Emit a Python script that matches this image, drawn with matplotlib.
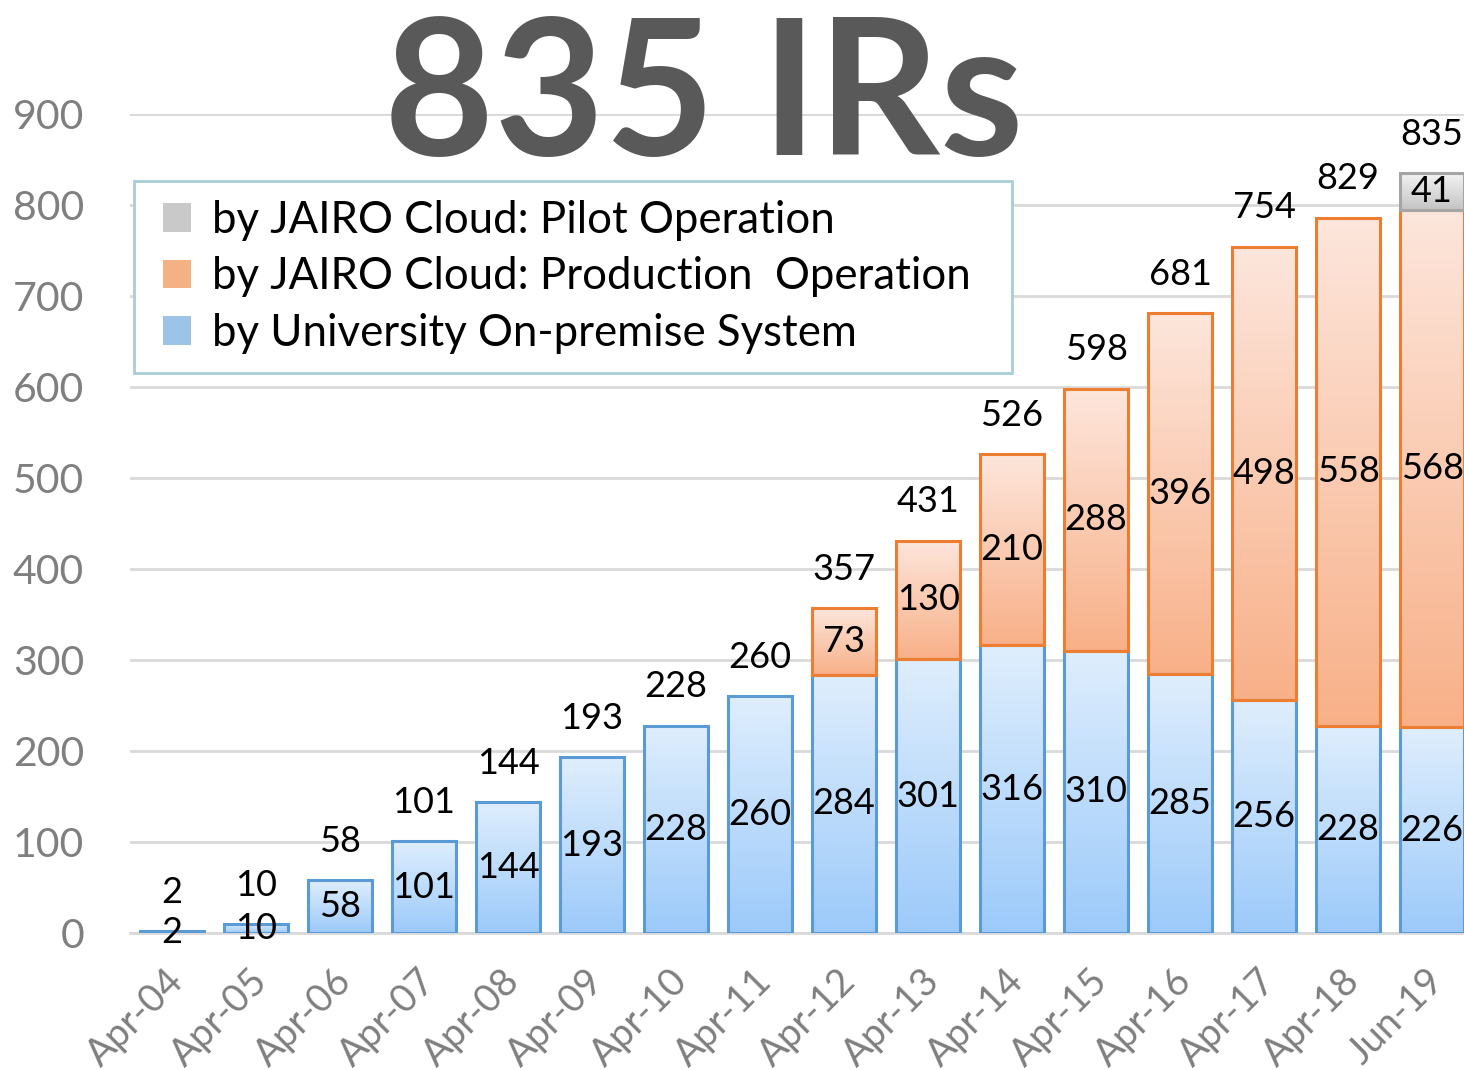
import matplotlib
matplotlib.use("Agg")
import matplotlib.pyplot as plt
import matplotlib.transforms as mtransforms
import numpy as np
from matplotlib.colors import LinearSegmentedColormap
from matplotlib.patches import Patch, Rectangle

categories = ["Apr-04", "Apr-05", "Apr-06", "Apr-07", "Apr-08", "Apr-09", "Apr-10", "Apr-11",
              "Apr-12", "Apr-13", "Apr-14", "Apr-15", "Apr-16", "Apr-17", "Apr-18", "Jun-19"]
university = [2, 10, 58, 101, 144, 193, 228, 260, 284, 301, 316, 310, 285, 256, 228, 226]
production = [0, 0, 0, 0, 0, 0, 0, 0, 73, 130, 210, 288, 396, 498, 558, 568]
pilot = [0, 0, 0, 0, 0, 0, 0, 0, 0, 0, 0, 0, 0, 0, 0, 41]
totals = [2, 10, 58, 101, 144, 193, 228, 260, 357, 431, 526, 598, 681, 754, 829, 835]
yticks = [0, 100, 200, 300, 400, 500, 600, 700, 800, 900]
legend_labels = ["by JAIRO Cloud: Pilot Operation",
                 "by JAIRO Cloud: Production  Operation",
                 "by University On-premise System"]
title = "835 IRs"

FONT = "Lato"
plt.rcParams['font.family'] = [FONT, 'DejaVu Sans']

W, H = 1464, 1070
fig = plt.figure(figsize=(W / 100, H / 100), dpi=100)
ax = fig.add_axes([130 / W, (H - 933) / H, (W - 130) / W, (933 - 114) / H])

x = np.arange(len(categories))
bw = 0.76

series = [
    (university, "#5b9bd5", "#dfeefd", "#9ccafa"),
    (production, "#ed7d31", "#fde6dc", "#f8b088"),
    (pilot, "#a5a5a5", "#f4f4f4", "#c4c4c4"),
]

bottom = np.zeros(len(categories))
grad = np.linspace(0, 1, 256).reshape(-1, 1)
for vals, edge, top_c, bot_c in series:
    vals = np.array(vals, dtype=float)
    cmap = LinearSegmentedColormap.from_list("g", [bot_c, top_c])
    bars = ax.bar(x, vals, bw, bottom=bottom, facecolor="none", edgecolor=edge,
                  linewidth=2.2, zorder=4)
    for i, (rect, v) in enumerate(zip(bars, vals)):
        if v <= 0:
            rect.set_visible(False)
            continue
        x0, y0 = rect.get_x(), rect.get_y()
        im = ax.imshow(grad, extent=[x0, x0 + rect.get_width(), y0, y0 + rect.get_height()],
                       origin="lower", aspect="auto", cmap=cmap, zorder=3, interpolation="bicubic")
        im.set_clip_path(rect)
        ax.text(x[i], y0 + v / 2, f"{int(v)}", ha="center", va="center", fontsize=26,
                color="black", zorder=6, clip_on=False)
    bottom = bottom + vals

for i, t in enumerate(totals):
    ax.annotate(f"{t}", (x[i], bottom[i]), xytext=(0, 28), textcoords="offset points",
                ha="center", va="center", fontsize=26, color="black", annotation_clip=False,
                zorder=6)

ax.set_xlim(-0.5, 15.38)
ax.set_ylim(0, 900)
ax.set_yticks(yticks)
ax.set_yticklabels([str(v) for v in yticks], fontsize=29.5, color="#7f7f7f")
ax.tick_params(axis="y", length=0, pad=33)
ax.set_xticks(x)
ax.set_xticklabels(categories, fontsize=27.5, color="#7f7f7f", rotation=45,
                   ha="right", rotation_mode="anchor")
ax.tick_params(axis="x", length=0, pad=14)
shift = mtransforms.ScaledTranslation(-7 / 100, -10 / 100, fig.dpi_scale_trans)
for lbl in ax.get_xticklabels():
    lbl.set_transform(lbl.get_transform() + shift)
ax.grid(axis="y", color="#d9d9d9", linewidth=2, zorder=0)
ax.set_axisbelow(True)
for s in ["top", "right", "left"]:
    ax.spines[s].set_visible(False)
ax.spines["bottom"].set_color("#d9d9d9")
ax.spines["bottom"].set_linewidth(2)
ax.spines["bottom"].set_zorder(2)

# legend box
frame = Rectangle((134 / W, (H - 373) / H), (1012 - 134) / W, (373 - 181) / H,
                  transform=fig.transFigure, facecolor="white", edgecolor="#a9cdd8",
                  linewidth=2, zorder=9)
fig.add_artist(frame)

handles = [Patch(facecolor="#c9c9c9", edgecolor="none"),
           Patch(facecolor="#f4b183", edgecolor="none"),
           Patch(facecolor="#9dc3e6", edgecolor="none")]
leg = fig.legend(handles, legend_labels, loc="upper left",
                 bbox_to_anchor=(163 / W, (H - 200) / H),
                 fontsize=31.5, frameon=False,
                 handlelength=0.63, handleheight=0.63, handletextpad=0.5,
                 labelspacing=0.35, borderpad=0, borderaxespad=0)
leg.set_zorder(10)

fig.text(704 / W, (H - 155) / H, title, ha="center", va="baseline", fontsize=137,
         fontweight="bold", color="#595959", zorder=11)

fig.savefig("out.png", dpi=100)
